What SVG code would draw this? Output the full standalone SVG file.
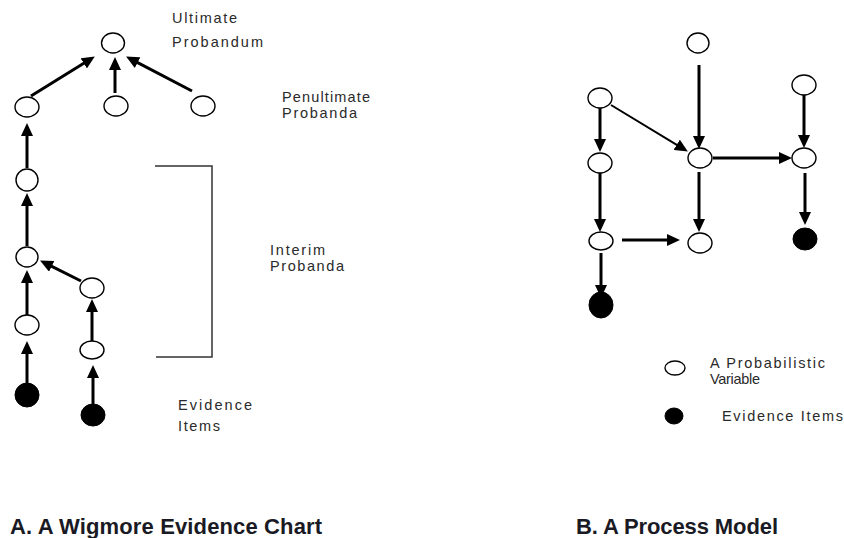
<svg xmlns="http://www.w3.org/2000/svg" width="844" height="538" viewBox="0 0 844 538">
<defs>
<marker id="ah" markerUnits="userSpaceOnUse" markerWidth="14" markerHeight="12" refX="1" refY="6" orient="auto">
<path d="M0,0 L13,6 L0,12 z" fill="#000"/>
</marker>
<style>
.n{fill:#fff;stroke:#000;stroke-width:1.4}
.e{fill:#000;stroke:#000;stroke-width:1}
.c line{stroke:#000;stroke-width:3;marker-end:url(#ah)}
.c line.thin{stroke-width:2}
.t{font-family:"Liberation Sans",Arial,sans-serif;font-size:14.5px;fill:#2a2a2a}
.h{font-family:"Liberation Sans",Arial,sans-serif;font-size:22px;font-weight:bold;fill:#1a1a24}
.b{stroke:#333;stroke-width:1.5;fill:none}
</style>
</defs>
<rect width="844" height="538" fill="#fff"/>

<g id="chart-a-nodes">
<ellipse id="a-ultimate" class="n" cx="113" cy="43" rx="11.5" ry="10"/>
<ellipse id="a-pen1" class="n" cx="27" cy="107" rx="12" ry="10"/>
<ellipse id="a-pen2" class="n" cx="116" cy="106" rx="12" ry="10"/>
<ellipse id="a-pen3" class="n" cx="203" cy="106" rx="12" ry="10"/>
<ellipse id="a-int1" class="n" cx="27" cy="180" rx="11" ry="11"/>
<ellipse id="a-int2" class="n" cx="27" cy="257" rx="11" ry="10"/>
<ellipse id="a-int3" class="n" cx="92" cy="288" rx="12" ry="10"/>
<ellipse id="a-int4" class="n" cx="27" cy="325" rx="12" ry="10"/>
<ellipse id="a-int5" class="n" cx="92" cy="350" rx="12" ry="9"/>
<ellipse id="a-ev1" class="e" cx="27" cy="395" rx="12" ry="12"/>
<ellipse id="a-ev2" class="e" cx="93" cy="415" rx="12" ry="11"/>
</g>

<g id="chart-b-nodes">
<ellipse id="b-t" class="n" cx="698" cy="43" rx="11" ry="10"/>
<ellipse id="b-a" class="n" cx="600" cy="98" rx="12" ry="10"/>
<ellipse id="b-r" class="n" cx="804" cy="85" rx="12" ry="10"/>
<ellipse id="b-c" class="n" cx="700" cy="158" rx="12" ry="10"/>
<ellipse id="b-b" class="n" cx="600" cy="163" rx="12" ry="10"/>
<ellipse id="b-d" class="n" cx="804" cy="158" rx="12" ry="10"/>
<ellipse id="b-e" class="n" cx="601" cy="241" rx="12" ry="9"/>
<ellipse id="b-f" class="n" cx="700" cy="243" rx="12" ry="10"/>
<ellipse id="b-g" class="e" cx="805" cy="239" rx="12" ry="11"/>
<ellipse id="b-h" class="e" cx="601" cy="305" rx="12" ry="13"/>
</g>

<g id="legend">
<ellipse id="legend-var" class="n" cx="675" cy="368" rx="10" ry="7"/>
<ellipse id="legend-ev" class="e" cx="674" cy="416" rx="9" ry="8"/>
</g>

<g id="connectors" class="c">
<line x1="31" y1="96" x2="84.6" y2="62.8"/>
<line x1="115" y1="93" x2="115" y2="69"/>
<line x1="192" y1="91" x2="136.7" y2="62.1"/>
<line x1="27" y1="168" x2="27" y2="135"/>
<line x1="27" y1="246" x2="27" y2="205"/>
<line x1="81" y1="281" x2="50.8" y2="265.9"/>
<line x1="27" y1="315" x2="27" y2="282"/>
<line x1="92" y1="341" x2="92" y2="311"/>
<line x1="27" y1="383" x2="27" y2="353"/>
<line x1="93" y1="404" x2="93" y2="377"/>

<line x1="699" y1="65" x2="699" y2="137"/>
<line x1="600" y1="108" x2="600" y2="140"/>
<line class="thin" x1="611" y1="105" x2="677.6" y2="145.3"/>
<line x1="713" y1="158" x2="780" y2="158"/>
<line x1="804" y1="95" x2="804" y2="136"/>
<line x1="600" y1="173" x2="600" y2="220"/>
<line x1="622" y1="240" x2="668" y2="240"/>
<line x1="699" y1="172" x2="699" y2="220"/>
<line x1="805" y1="173" x2="805" y2="213"/>
<line x1="601" y1="253" x2="601" y2="286"/>
</g>

<g id="bracket">
<path class="b" d="M155,166 H212 V357 H156"/>
</g>

<g id="labels">
<text class="t" x="172" y="23" textLength="65" lengthAdjust="spacing">Ultimate</text>
<text class="t" x="172" y="47" textLength="91" lengthAdjust="spacing">Probandum</text>
<text class="t" x="282" y="102" textLength="88" lengthAdjust="spacing">Penultimate</text>
<text class="t" x="282" y="118" textLength="75" lengthAdjust="spacing">Probanda</text>
<text class="t" x="270" y="255" textLength="55" lengthAdjust="spacing">Interim</text>
<text class="t" x="270" y="271" textLength="74" lengthAdjust="spacing">Probanda</text>
<text class="t" x="178" y="410" textLength="74" lengthAdjust="spacing">Evidence</text>
<text class="t" x="178" y="431" textLength="42" lengthAdjust="spacing">Items</text>
<text class="t" x="710" y="368" textLength="115" lengthAdjust="spacing">A Probabilistic</text>
<text class="t" x="710" y="384" textLength="50" lengthAdjust="spacing">Variable</text>
<text class="t" x="722" y="421" textLength="121" lengthAdjust="spacing">Evidence Items</text>
<text class="h" x="10" y="534" textLength="312" lengthAdjust="spacing">A. A Wigmore Evidence Chart</text>
<text class="h" x="576" y="534" textLength="202" lengthAdjust="spacing">B. A Process Model</text>
</g>
</svg>
